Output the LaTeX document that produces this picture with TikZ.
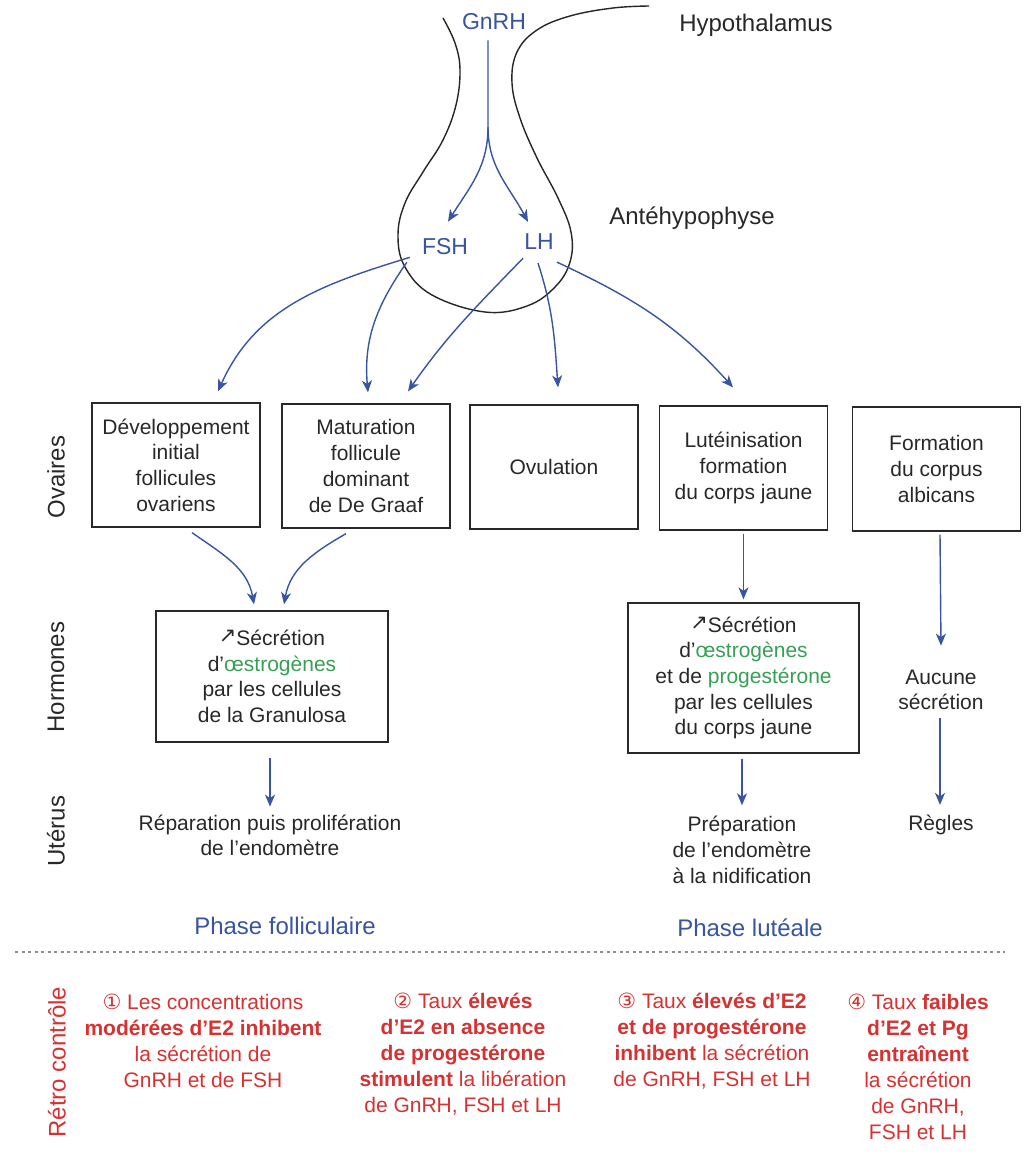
\documentclass[tikz,border=0pt]{standalone}
\usepackage{fontspec}
\setmainfont{Liberation Sans}
\newfontfamily\symf{DejaVu Sans}
\usetikzlibrary{arrows.meta}
\definecolor{hblue}{RGB}{55,85,160}
\definecolor{tgray}{RGB}{40,40,40}
\definecolor{egreen}{RGB}{55,160,85}
\definecolor{rred}{RGB}{214,50,50}
\newcommand{\upar}{{\symf\raisebox{3pt}{\fontsize{21}{21}\selectfont ↗}}}
\begin{document}
\begin{tikzpicture}[x=1pt,y=1pt,
 lbl/.style={text=tgray, font=\fontsize{24}{29}\selectfont, inner sep=0pt},
 hlbl/.style={text=hblue, font=\fontsize{23}{28}\selectfont, inner sep=0pt},
 boxtxt/.style={text=tgray, font=\fontsize{21}{25.7}\selectfont, align=center, inner sep=0pt},
 ovbox/.style={boxtxt, draw=tgray, line width=1.3pt, minimum width=168pt, minimum height=124pt},
 arr/.style={draw=hblue, line width=1.4pt, -{Stealth[length=12pt,width=10pt,inset=3.5pt]}},
 rowlbl/.style={lbl, rotate=90},
 phase/.style={text=hblue, font=\fontsize{24}{29}\selectfont, inner sep=0pt},
 retro/.style={text=rred, font=\fontsize{21}{26}\selectfont, align=center, inner sep=0pt},
 outline/.style={draw=black!85, line width=1.4pt},
 sep/.style={draw=black!45, line width=1.6pt, dash pattern=on 3pt off 3.5pt}
]
\useasboundingbox[fill=white] (0,0) rectangle (1028,-1168);

% pituitary outline
\draw[outline] plot[smooth, tension=0.65] coordinates {(443,-18) (455,-43) (460,-70) (456,-105) (443,-140) (423,-172) (405,-203) (398,-235) (405,-267) (432,-295) (485,-312) (527,-306) (555,-287) (570,-262) (571,-232) (558,-198) (537,-158) (520,-118) (512,-83) (517,-52) (537,-30) (570,-16) (613,-8) (649,-6)};

% top labels
\node[hlbl] (gnrh) at (494,-22) {GnRH};
\node[lbl] (hypo) at (756,-25) {Hypothalamus};
\node[lbl] (ante) at (692,-218) {Antéhypophyse};
\node[hlbl] (fsh) at (445,-247) {FSH};
\node[hlbl] (lh) at (539,-242) {LH};

% ovary boxes
\node[ovbox] (b1) at (176,-465) {Développement\\initial\\follicules\\ovariens};
\node[ovbox] (b2) at (366,-466) {Maturation\\follicule\\dominant\\de De Graaf};
\node[ovbox] (b3) at (554,-467) {Ovulation};
\node[ovbox] (b4) at (743.5,-468) {Lutéinisation\\formation\\du corps jaune};
\node[ovbox] (b5) at (936.5,-469) {Formation\\du corpus\\albicans};

% hormone boxes
\node[ovbox, minimum width=232pt, minimum height=131pt] (h1) at (272,-676.5)
 {\upar Sécrétion\\d'\textcolor{egreen}{œstrogènes}\\par les cellules\\de la Granulosa};
\node[ovbox, minimum width=231pt, minimum height=150pt] (h2) at (743.5,-678)
 {\upar Sécrétion\\d’\textcolor{egreen}{œstrogènes}\\et de \textcolor{egreen}{progestérone}\\par les cellules\\du corps jaune};
\node[boxtxt] (auc) at (941,-690) {Aucune\\sécrétion};

% uterus
\node[boxtxt] (rep) at (270,-835.5) {Réparation puis prolifération\\de l'endomètre};
\node[boxtxt] (prep) at (742,-850) {Préparation\\de l’endomètre\\à la nidification};
\node[boxtxt] (reg) at (941,-825) {Règles};

% row labels
\node[rowlbl] (lov) at (56,-477) {Ovaires};
\node[rowlbl] (lho) at (56,-677) {Hormones};
\node[rowlbl] (lut) at (56,-831) {Utérus};
\node[lbl, rotate=90, text=rred] (lre) at (57,-1062) {Rétro contrôle};

% phases
\node[phase] (pf) at (285,-926) {Phase folliculaire};
\node[phase] (pl) at (750,-928) {Phase lutéale};

% separator
\coordinate (sepL) at (15,-952);
\coordinate (sepR) at (1005,-952);
\draw[sep] (sepL) -- (sepR);

% feedback texts
\node[retro] (r1) at (203,-1041) {{\symf ①} Les concentrations\\\textbf{modérées d’E2 inhibent}\\la sécrétion de\\GnRH et de FSH};
\node[retro] (r2) at (463,-1054) {{\symf ②} Taux \textbf{élevés}\\\textbf{d’E2 en absence}\\\textbf{de progestérone}\\\textbf{stimulent} la libération\\de GnRH, FSH et LH};
\node[retro] (r3) at (712,-1041) {{\symf ③} Taux \textbf{élevés d’E2}\\\textbf{et de progestérone}\\\textbf{inhibent} la sécrétion\\de GnRH, FSH et LH};
\node[retro] (r4) at (918,-1067) {{\symf ④} Taux \textbf{faibles}\\\textbf{d’E2 et Pg}\\\textbf{entraînent}\\la sécrétion\\de GnRH,\\FSH et LH};

% GnRH arrows
\coordinate (split) at (488,-127);
\draw[arr] ([xshift=-6pt,yshift=-10pt]gnrh.south) -- (split) to[out=-90,in=58] ([xshift=3pt,yshift=17pt]fsh.north);
\draw[arr] (split) to[out=-90,in=118] ([xshift=-11pt,yshift=12pt]lh.north);

% FSH / LH to ovary boxes
\draw[arr] ([xshift=-12pt,yshift=-2pt]fsh.south west) to[out=197,in=66] ([xshift=42pt,yshift=11pt]b1.north);
\draw[arr] ([xshift=-15pt,yshift=-7pt]fsh.south west) to[out=235,in=95] ([xshift=2pt,yshift=11pt]b2.north);
\draw[arr] ([xshift=-1pt,yshift=-8pt]lh.south west) to[out=226,in=55] ([xshift=42pt,yshift=12pt]b2.north);
\draw[arr] ([xshift=-1pt,yshift=-13pt]lh.south) to[out=-72,in=94] ([xshift=4pt,yshift=17pt]b3.north);
\draw[arr] ([xshift=3pt,yshift=-12pt]lh.south east) to[out=-25,in=132] ([xshift=-10.5pt,yshift=18pt]b4.north);

% ovary to hormones
\draw[arr] ([xshift=16pt,yshift=-5pt]b1.south) to[out=-35,in=100] ([xshift=-18pt,yshift=6pt]h1.north);
\draw[arr] ([xshift=-20pt,yshift=-5pt]b2.south) to[out=210,in=80] ([xshift=12pt,yshift=6pt]h1.north);
\draw[arr] ([yshift=-3pt]b4.south) -- ([yshift=3pt]h2.north);
\draw[arr] ([xshift=3.5pt,yshift=-3pt]b5.south) -- ([yshift=24pt]auc.north);

% hormones to uterus
\draw[arr] ([xshift=-2pt,yshift=-15pt]h1.south) -- ([yshift=8pt]rep.north);
\draw[arr] ([xshift=-1.5pt,yshift=-5pt]h2.south) -- ([yshift=11pt]prep.north);
\draw[arr] ([xshift=-1pt,yshift=-8pt]auc.south) -- ([xshift=-1pt,yshift=10pt]reg.north);
\end{tikzpicture}
\end{document}
